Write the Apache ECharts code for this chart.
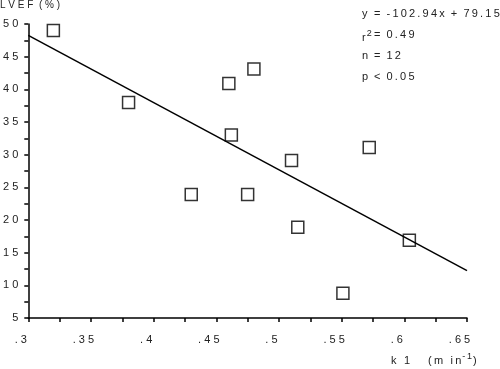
<!DOCTYPE html>
<html><head><meta charset="utf-8">
<script src="https://cdn.jsdelivr.net/npm/echarts@6/dist/echarts.min.js"></script>
<style>html,body{margin:0;padding:0;background:#fff}#c{width:500px;height:369px}</style>
</head><body><div id="c"></div>
<script>
// Data
const k1Values = [0.320, 0.380, 0.430, 0.460, 0.480, 0.462, 0.475, 0.510, 0.515, 0.572, 0.551, 0.604];
const lvefValues = [49.0, 38.0, 23.9, 40.9, 43.1, 33.0, 23.9, 29.1, 18.9, 31.1, 8.8, 16.9];
const fitSlope = -102.94;
const fitIntercept = 79.15;
const xTicks = ['.3', '.35', '.4', '.45', '.5', '.55', '.6', '.65'];
const yTicks = ['5', '10', '15', '20', '25', '30', '35', '40', '45', '50'];
const statsLabels = ['y', 'r2', 'n', 'p'];
const statsValues = ['= -102.94x + 79.15', '= 0.49', '= 12', '< 0.05'];

const sp = s => s.split('').join('\u2009');
const ws = s => s.split('').join(' ');
const FONT = 'Liberation Sans';
const points = k1Values.map((x, i) => [x, lvefValues[i]]);
const fitLine = [0.3, 0.65].map(x => [x, fitSlope * x + fitIntercept]);

const chart = echarts.init(document.getElementById('c'), null, {renderer: 'canvas'});
const statTexts = [];
const statY = [14, 35, 56, 77];
statsLabels.forEach((l, i) => {
  statTexts.push({
    type: 'text', left: 362, top: statY[i] - 6,
    style: i === 1 ? {
      text: '{a|r}{s|2}', rich: {a: {fontSize: 11, fontFamily: FONT, fill: '#222'}, s: {fontSize: 9, fontFamily: FONT, fill: '#222', verticalAlign: 'top', padding: [0,0,8,1]}}
    } : {text: l, font: '11px ' + FONT, fill: '#222'}
  });
  statTexts.push({
    type: 'text', left: 374, top: statY[i] - 6,
    style: {text: sp(statsValues[i]).replace(/\u2009 \u2009/g, '  '), font: '11px ' + FONT, fill: '#222'}
  });
});

chart.setOption({
  animation: false,
  backgroundColor: '#fff',
  grid: {left: 26, right: 33, top: 24, bottom: 51},
  xAxis: {
    type: 'value', min: 0.3, max: 0.65, interval: 0.05,
    axisLine: {lineStyle: {color: '#000', width: 1.5}},
    axisTick: {length: 4, lineStyle: {color: '#000', width: 1.5}},
    minorTick: {show: true, splitNumber: 2, length: 4, lineStyle: {color: '#000', width: 1.5}},
    splitLine: {show: false},
    axisLabel: {margin: 16, fontSize: 11, fontFamily: FONT, color: '#222', padding: [0, 15, 0, 0],
      formatter: v => { const i = Math.round((v - 0.3) / 0.05); return ws(xTicks[i] || ''); }}
  },
  yAxis: {
    type: 'value', min: 5, max: 50, interval: 5,
    axisLine: {lineStyle: {color: '#000', width: 1.5}},
    axisTick: {length: 4, lineStyle: {color: '#000', width: 1.5}},
    minorTick: {show: true, splitNumber: 2, length: 4, lineStyle: {color: '#000', width: 1.5}},
    splitLine: {show: false},
    axisLabel: {margin: 10, fontSize: 11, fontFamily: FONT, color: '#222',
      formatter: v => { const i = Math.round((v - 5) / 5); return ws(yTicks[i] || ''); }}
  },
  graphic: [
    {type: 'text', left: 0, top: 0, style: {text: 'L V E F  ( % )', font: '10px ' + FONT, fill: '#222'}},
    {type: 'text', left: 391, top: 352, style: {
      text: '{a|' + sp('k 1   (m in') + '}{s|' + sp('-1') + '}{a|)}',
      rich: {a: {fontSize: 11, fontFamily: FONT, fill: '#222'}, s: {fontSize: 9, fontFamily: FONT, fill: '#222', padding: [0,1,8,1]}}
    }},
    ...statTexts
  ],
  series: [
    {type: 'line', data: fitLine, symbol: 'none', lineStyle: {color: '#000', width: 1.5}, z: 2},
    {type: 'scatter', data: points, symbol: 'rect', symbolSize: 12,
      itemStyle: {color: 'rgba(0,0,0,0)', borderColor: '#000', borderWidth: 1.5}, z: 3}
  ]
});
</script></body></html>
